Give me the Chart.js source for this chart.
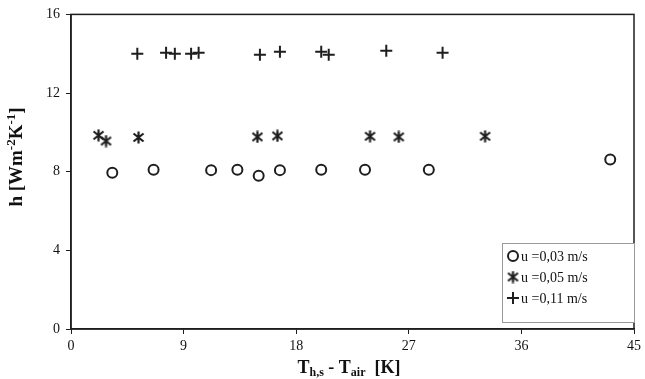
<!DOCTYPE html>
<html>
<head>
<meta charset="utf-8">
<script src="https://cdn.jsdelivr.net/npm/chart.js@4.4.1/dist/chart.umd.min.js"></script>
<style>
  html, body { margin: 0; padding: 0; background: #fff; }
</style>
</head>
<body>
<canvas id="chart" width="645" height="379"></canvas>
<script>
// u = 0,03 m/s
const xSlow = [3.3, 6.6, 11.2, 13.3, 15.0, 16.7, 20.0, 23.5, 28.6, 43.1];
const ySlow = [7.95, 8.1, 8.08, 8.1, 7.8, 8.08, 8.1, 8.1, 8.1, 8.62];
// u = 0,05 m/s
const xMid = [2.2, 2.8, 5.4, 14.9, 16.5, 23.9, 26.2, 33.1];
const yMid = [9.85, 9.56, 9.74, 9.77, 9.82, 9.8, 9.77, 9.8];
// u = 0,11 m/s
const xFast = [5.3, 7.6, 8.3, 9.6, 10.2, 15.1, 16.7, 20.0, 20.6, 25.2, 29.7];
const yFast = [14.0, 14.05, 14.0, 14.0, 14.05, 13.95, 14.1, 14.1, 13.95, 14.15, 14.05];

const seriesLabels = ['u =0,03 m/s', 'u =0,05 m/s', 'u =0,11 m/s'];
const xTicks = [0, 9, 18, 27, 36, 45];
const yTicks = [0, 4, 8, 12, 16];

const ink = '#1e1e1e';
const serif = '"Liberation Serif", "Times New Roman", serif';

function pts(xs, ys) {
  return xs.map((x, i) => ({ x: x, y: ys[i] }));
}

// asterisk marker: X with a vertical bar
function asterisk(size) {
  const c = document.createElement('canvas');
  c.width = size; c.height = size;
  const g = c.getContext('2d');
  g.strokeStyle = ink;
  g.lineWidth = 2.2;
  const m = 1.5, s = size - 1.5;
  g.beginPath();
  g.moveTo(m, m + 1); g.lineTo(s, s - 1);
  g.moveTo(s, m + 1); g.lineTo(m, s - 1);
  g.moveTo(size / 2, m - 1); g.lineTo(size / 2, s + 1);
  g.stroke();
  return c;
}
const starImg = asterisk(13);

// draws text pieces [text, font, dy] one after another from x
function runText(ctx, parts, x, y) {
  parts.forEach(p => {
    ctx.font = p[1];
    ctx.fillText(p[0], x, y + p[2]);
    x += ctx.measureText(p[0]).width;
  });
}
function runWidth(ctx, parts) {
  let w = 0;
  parts.forEach(p => { ctx.font = p[1]; w += ctx.measureText(p[0]).width; });
  return w;
}

const frame = {
  id: 'frame',
  afterDraw(chart) {
    const ctx = chart.ctx;
    const a = chart.chartArea;
    ctx.save();
    ctx.strokeStyle = ink;
    ctx.lineWidth = 1.5;
    ctx.strokeRect(a.left, a.top, a.right - a.left, a.bottom - a.top);

    ctx.fillStyle = '#111';
    ctx.textBaseline = 'alphabetic';
    const big = 'bold 19px ' + serif, small = 'bold 13px ' + serif;

    // y title with superscripts
    const yParts = [['h [Wm', big, 0], ['-2', small, -7], ['K', big, 0], ['-1', small, -7], [']', big, 0]];
    let w = runWidth(ctx, yParts);
    ctx.translate(22, 157);
    ctx.rotate(-Math.PI / 2);
    runText(ctx, yParts, -w / 2, 0);
    ctx.setTransform(1, 0, 0, 1, 0, 0);

    // x title with subscripts
    const big2 = 'bold 18px ' + serif, small2 = 'bold 12px ' + serif;
    const xParts = [['T', big2, 0], ['h,s', small2, 3], [' - T', big2, 0], ['air', small2, 3], ['  [K]', big2, 0]];
    w = runWidth(ctx, xParts);
    runText(ctx, xParts, 349 - w / 2, 373);

    // legend box
    const L = 502, T = 243, R = 634, B = 322;
    ctx.fillStyle = '#fff';
    ctx.fillRect(L, T, R - L, B - T);
    ctx.strokeStyle = '#9a9a9a';
    ctx.lineWidth = 1;
    ctx.strokeRect(L + 0.5, T + 0.5, R - L, B - T);
    ctx.font = '14px ' + serif;
    chart.data.datasets.forEach((ds, i) => {
      const yy = 256 + i * 21;
      ctx.strokeStyle = ink;
      ctx.fillStyle = '#fff';
      ctx.lineWidth = ds.borderWidth;
      Chart.helpers.drawPoint(ctx, {
        pointStyle: ds.pointStyle, radius: ds.pointRadius, rotation: 0, borderWidth: ds.borderWidth
      }, 513, yy);
      ctx.fillStyle = '#111';
      ctx.textBaseline = 'middle';
      ctx.fillText(ds.label, 521, yy + 1);
    });
    ctx.restore();
  }
};

new Chart(document.getElementById('chart'), {
  type: 'scatter',
  data: {
    datasets: [
      { label: seriesLabels[0], data: pts(xSlow, ySlow), pointStyle: 'circle', pointRadius: 5,
        borderWidth: 2, borderColor: ink, backgroundColor: '#fff' },
      { label: seriesLabels[1], data: pts(xMid, yMid), pointStyle: starImg, pointRadius: 6,
        borderWidth: 2, borderColor: ink, backgroundColor: ink },
      { label: seriesLabels[2], data: pts(xFast, yFast), pointStyle: 'cross', pointRadius: 6,
        borderWidth: 2, borderColor: ink, backgroundColor: ink }
    ]
  },
  options: {
    responsive: false,
    animation: false,
    layout: { padding: { top: 14, right: 7, left: 0, bottom: 0 } },
    plugins: { legend: { display: false }, tooltip: { enabled: false } },
    scales: {
      x: {
        type: 'linear', min: 0, max: 45,
        afterBuildTicks: s => { s.ticks = xTicks.map(v => ({ value: v })); },
        afterFit: s => { s.height = 50; },
        ticks: { color: '#111', font: { family: serif, size: 14 }, padding: 4 },
        grid: { drawOnChartArea: false, color: ink, tickLength: 5 },
        border: { color: ink, width: 1.5 }
      },
      y: {
        min: 0, max: 16,
        afterBuildTicks: s => { s.ticks = yTicks.map(v => ({ value: v })); },
        afterFit: s => { s.width = 71; },
        ticks: { color: '#111', font: { family: serif, size: 14 }, padding: 6 },
        grid: { drawOnChartArea: false, color: ink, tickLength: 5 },
        border: { color: ink, width: 1.5 }
      }
    }
  },
  plugins: [frame]
});
</script>
</body>
</html>
